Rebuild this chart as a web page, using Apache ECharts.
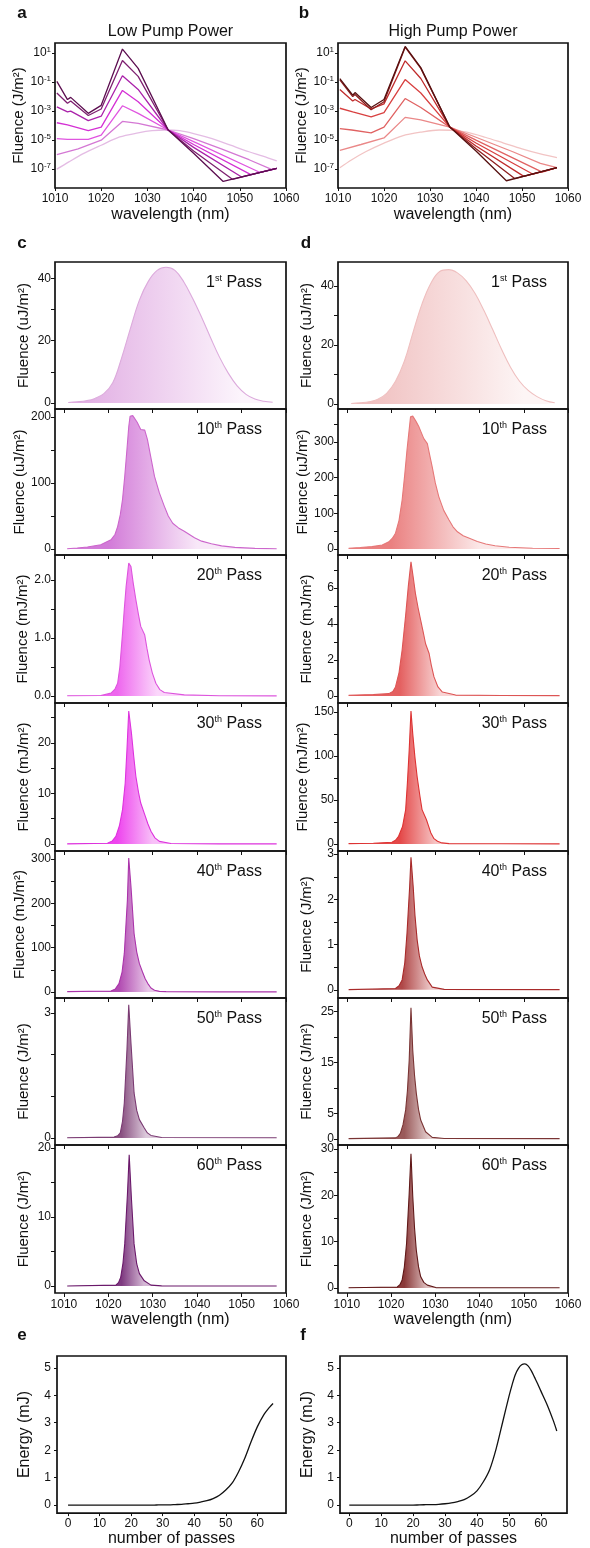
<!DOCTYPE html>
<html><head><meta charset="utf-8">
<script src="https://cdn.jsdelivr.net/npm/echarts@6/dist/echarts.min.js"></script>
<style>html,body{margin:0;padding:0;background:#fff}#c{width:590px;height:1548px}</style>
</head><body><div id="c"></div>
<script>
// ---------- DATA ----------
const passes = ['1','10','20','30','40','50','60'];
const suffix = ['st','th','th','th','th','th','th'];
const logTicks = [-7,-5,-3,-1,1];
const xTicks = [1010,1020,1030,1040,1050,1060];
const passTicks = [0,10,20,30,40,50,60];
const energyTicks = [0,1,2,3,4,5];

// panel a: log10 fluence (J/m2)
const a1  = [[1010.4,-7.0],[1013,-6.5],[1016,-5.95],[1020,-5.35],[1024,-4.78],[1028,-4.5],[1031,-4.35],[1034,-4.3],[1037,-4.35],[1040,-4.55],[1044,-4.9],[1048,-5.35],[1052,-5.8],[1055,-6.1],[1058,-6.43]];
const a10 = [[1010.4,-6.0],[1015,-5.6],[1020,-5.0],[1024.6,-3.71],[1028,-3.85],[1034.5,-4.3],[1040,-4.9],[1046,-5.6],[1052,-6.35],[1057,-7.03],[1058,-6.95]];
const a20 = [[1010.4,-4.9],[1012.7,-4.95],[1017.2,-4.95],[1020,-4.65],[1024.6,-2.63],[1028,-3.15],[1034.5,-4.3],[1040,-5.1],[1054.4,-7.23],[1058,-6.95]];
const a30 = [[1010.4,-3.8],[1012.7,-3.95],[1017.2,-4.35],[1020,-4.1],[1024.6,-1.57],[1028,-2.35],[1034.5,-4.3],[1040,-5.3],[1052.4,-7.38],[1058,-6.95]];
const a40 = [[1010.4,-2.7],[1012.7,-3.05],[1013.4,-3.0],[1017.2,-3.65],[1020,-3.35],[1024.6,-0.56],[1028,-1.5],[1034.5,-4.3],[1040,-5.5],[1050.4,-7.54],[1058,-6.95]];
const a50 = [[1010.4,-1.75],[1012.7,-2.45],[1013.4,-2.3],[1017.2,-3.3],[1020,-2.85],[1024.6,0.49],[1028,-0.6],[1034.5,-4.3],[1040,-5.75],[1048.4,-7.7],[1058,-6.95]];
const a60 = [[1010.4,-0.95],[1012.7,-2.2],[1013.4,-2.05],[1017.2,-3.15],[1020,-2.6],[1024.6,1.28],[1028,-0.05],[1034.5,-4.3],[1040,-5.9],[1046.4,-7.85],[1058,-6.95]];

// panel b: log10 fluence (J/m2)
const b1  = [[1010.4,-6.9],[1013,-6.35],[1016,-5.8],[1020,-5.2],[1024,-4.7],[1028,-4.45],[1032,-4.3],[1035,-4.32],[1038,-4.45],[1042,-4.8],[1046,-5.2],[1050,-5.6],[1054,-5.95],[1057.6,-6.2]];
const b10 = [[1010.4,-5.7],[1015,-5.3],[1020,-4.85],[1024.6,-3.43],[1028,-3.6],[1034.3,-4.1],[1040,-4.8],[1048,-5.8],[1054,-6.6],[1057.6,-6.9]];
const b20 = [[1010.4,-4.2],[1013,-4.3],[1017.2,-4.5],[1020,-4.1],[1024.6,-2.13],[1028,-2.75],[1034.3,-4.1],[1040,-5.0],[1054.4,-7.2],[1057.6,-6.9]];
const b30 = [[1010.4,-2.8],[1013.2,-3.05],[1017.2,-3.4],[1020,-3.1],[1024.6,-0.82],[1028,-1.75],[1034.3,-4.1],[1040,-5.2],[1052.4,-7.35],[1057.6,-6.9]];
const b40 = [[1010.4,-1.5],[1013.2,-2.3],[1013.7,-2.2],[1017.2,-2.85],[1020,-2.5],[1024.6,0.47],[1028,-0.75],[1034.3,-4.1],[1040,-5.4],[1050.4,-7.5],[1057.6,-6.9]];
const b50 = [[1010.4,-0.85],[1013.2,-2.0],[1013.7,-1.85],[1017.2,-2.9],[1020,-2.35],[1024.6,1.41],[1028,-0.05],[1034.3,-4.1],[1040,-5.6],[1048.4,-7.65],[1057.6,-6.9]];
const b60 = [[1010.4,-0.75],[1013.2,-1.9],[1013.7,-1.72],[1017.2,-2.75],[1020,-2.2],[1024.6,1.46],[1028,0.0],[1034.3,-4.1],[1040,-5.75],[1046.6,-7.8],[1057.6,-6.9]];

// panel c (low pump) linear spectra, units per subplot
const c1  = [[1011,0.2],[1013,0.4],[1015,0.75],[1017,1.5],[1019,3.0],[1021,6.5],[1023,14.5],[1025,24],[1027,33],[1029,39],[1031,42.5],[1033,43.5],[1035,42.5],[1037,38.8],[1039,33.5],[1041,27.5],[1043,21],[1045,14.8],[1047,9.6],[1049,5.5],[1051,2.8],[1053,1.3],[1055,0.6],[1057,0.25]];
const c10 = [[1010.75,0.5],[1013,1.5],[1015.3,3],[1018.3,6.6],[1020.6,14],[1021.5,22],[1022.1,34],[1022.7,52],[1023.2,75],[1023.7,110],[1024.2,151],[1024.6,185],[1024.9,201],[1025.5,202],[1026.5,192],[1027.3,181],[1028.2,180],[1028.8,166],[1029.6,138],[1030.4,110],[1031.5,85],[1032.6,65],[1033.5,50],[1034.5,39],[1035.8,32],[1037.1,27],[1039.4,17],[1041,12],[1043.2,8],[1045.5,4.8],[1048.5,2.5],[1053,1],[1057.9,0.5]];
const c20 = [[1010.75,0.005],[1018.3,0.01],[1020.6,0.05],[1021.5,0.12],[1022.1,0.22],[1022.6,0.5],[1023.2,1.08],[1023.6,1.5],[1024,1.88],[1024.6,2.29],[1025.1,2.23],[1025.6,1.95],[1026.2,1.66],[1026.8,1.4],[1027.3,1.2],[1028.2,1.05],[1028.7,0.82],[1029.2,0.62],[1029.9,0.4],[1030.7,0.22],[1031.6,0.11],[1032.6,0.06],[1037.1,0.02],[1045,0.005],[1057.9,0.003]];
const c30 = [[1010.75,0.02],[1019.8,0.13],[1020.9,0.6],[1021.7,1.5],[1022.5,3.6],[1023.2,6.8],[1023.8,12],[1024.2,18.7],[1024.6,26.3],[1025.2,22],[1025.7,17.5],[1026.2,13.4],[1026.8,10.2],[1027.3,8.1],[1028.2,5.8],[1028.9,4.0],[1029.6,2.5],[1030.5,1.2],[1031.5,0.5],[1034.1,0.07],[1045,0.02],[1057.9,0.01]];
const c40 = [[1010.75,0.8],[1020.6,2.3],[1021.6,7],[1022.4,19],[1023.1,45],[1023.6,87],[1024.3,208],[1024.6,302],[1025.1,238],[1025.8,132],[1026.4,90],[1027,64],[1027.7,45],[1028.3,30],[1028.9,19],[1029.6,9],[1030.4,4],[1031.5,1.5],[1033,0.8],[1045,0.3],[1057.9,0.2]];
const c50 = [[1010.75,0.003],[1021.3,0.02],[1022.1,0.05],[1022.7,0.12],[1023.2,0.4],[1023.6,0.84],[1024.2,2.12],[1024.6,3.2],[1025.1,2.28],[1025.8,1.08],[1026.4,0.66],[1027,0.44],[1028.1,0.24],[1028.8,0.12],[1029.6,0.06],[1032,0.01],[1057.9,0.003]];
const c60 = [[1010.75,0.01],[1021.7,0.14],[1022.3,0.5],[1022.8,1.3],[1023.3,3.3],[1023.7,6.1],[1024.3,13.2],[1024.7,19],[1025.2,12.7],[1025.8,6.1],[1026.4,3.2],[1027,1.8],[1028.1,0.76],[1029.6,0.14],[1032,0.03],[1057.9,0.01]];

// panel d (high pump) linear spectra
const d1  = [[1011,0.15],[1013,0.4],[1015,0.75],[1017,1.6],[1019,3.6],[1021,7.7],[1023,14.5],[1025,24.5],[1027,34],[1029,41],[1031,45],[1033,45.6],[1035,44.5],[1037,41.8],[1039,37.5],[1041,31.7],[1043,25.2],[1045,18.5],[1047,12.5],[1049,7.8],[1051,4.6],[1053,2.5],[1055,1.1],[1057,0.4]];
const d10 = [[1010.4,2],[1013,4],[1015.7,6.5],[1018,11],[1019.5,20],[1020.3,30],[1021,44],[1021.8,80],[1022.5,137],[1023.1,210],[1023.6,277],[1024.4,370],[1024.9,372],[1025.6,358],[1026.3,342],[1027.4,309],[1028.2,295],[1028.7,265],[1029.3,230],[1030,185],[1030.8,146],[1031.9,108],[1033.1,81],[1034,62],[1035,48],[1036.3,37],[1037.7,30],[1039.5,21],[1041.4,14],[1043.5,9],[1046.7,4.7],[1052,2],[1058.1,1]];
const d20 = [[1010.4,0.04],[1016,0.08],[1019.5,0.13],[1020.4,0.25],[1021,0.5],[1021.8,1.3],[1022.5,2.55],[1023.3,4.5],[1023.9,6.1],[1024.5,7.45],[1025,6.6],[1025.5,5.7],[1026.1,4.9],[1026.7,4.2],[1027.3,3.5],[1027.8,2.9],[1028.6,2.36],[1029.1,1.7],[1029.7,1.06],[1030.6,0.5],[1031.6,0.22],[1034.6,0.05],[1045,0.03],[1058.1,0.02]];
const d30 = [[1010.4,0.4],[1016,0.8],[1020.2,1.9],[1021,4.2],[1021.7,8.7],[1022.6,20],[1023.3,39],[1023.7,70],[1024.1,107],[1024.5,151],[1024.9,125],[1025.4,98],[1025.9,76],[1026.5,55],[1027,39],[1028,27.5],[1028.5,20],[1029,12.4],[1029.7,6],[1030.5,3],[1031.5,1.2],[1033.1,0.4],[1045,0.2],[1058.1,0.1]];
const d40 = [[1010.4,0.005],[1021,0.03],[1021.8,0.09],[1022.5,0.22],[1023.1,0.6],[1023.6,1.25],[1024.2,2.28],[1024.5,2.93],[1025,2.28],[1025.4,1.65],[1025.9,1.1],[1026.4,0.75],[1027,0.51],[1027.6,0.35],[1028.2,0.22],[1029.3,0.06],[1032,0.01],[1058.1,0.005]];
const d50 = [[1010.4,0.05],[1021,0.2],[1021.6,0.5],[1022.1,1.1],[1022.7,2.8],[1023.3,5.7],[1023.7,9.5],[1024.1,15.5],[1024.5,25.8],[1024.9,17.4],[1025.3,12.5],[1025.7,9],[1026.2,5.8],[1026.7,3.7],[1027.8,1.4],[1029.3,0.3],[1032,0.08],[1058.1,0.05]];
const d60 = [[1010.4,0.05],[1021.4,0.2],[1022,0.7],[1022.5,1.7],[1023,4.5],[1023.5,9.6],[1024.1,20.5],[1024.5,29],[1024.9,19.8],[1025.3,13],[1025.7,8.2],[1026.2,4.6],[1026.7,2.4],[1027.4,1.2],[1028.2,0.6],[1030.1,0.07],[1058.1,0.03]];

// y-axis units and tick values per subplot
const cUnits = ['uJ','uJ','mJ','mJ','mJ','J','J'];
const dUnits = ['uJ','uJ','mJ','mJ','J','J','J'];
const cLabelVals = [[0,20,40],[0,100,200],[0,1,2],[0,10,20],[0,100,200,300],[0,3],[0,10,20]];
const cTickVals  = [[0,10,20,30,40],[0,50,100,150,200],[0,0.5,1,1.5,2],[0,5,10,15,20,25],[0,50,100,150,200,250,300],[0,1,2,3],[0,5,10,15,20]];
const dLabelVals = [[0,20,40],[0,100,200,300],[0,2,4,6],[0,50,100,150],[0,1,2,3],[0,5,15,25],[0,10,20,30]];
const dTickVals  = [[0,10,20,30,40],[0,50,100,150,200,250,300,350],[0,1,2,3,4,5,6,7],[0,25,50,75,100,125,150],[0,0.5,1,1.5,2,2.5,3],[0,5,10,15,20,25],[0,5,10,15,20,25,30]];

// panels e, f: energy (mJ) vs number of passes
const eEnergy = [[0,0],[2,0],[4,0],[6,0],[8,0],[10,0],[12,0],[14,0],[16,0],[18,0],[20,0],[22,0],[24,0],[26,0],[28,0.005],[30,0.01],[32,0.01],[34,0.02],[36,0.03],[38,0.05],[40,0.07],[42,0.11],[44,0.16],[46,0.24],[48,0.36],[50,0.55],[52,0.8],[54,1.2],[56,1.7],[58,2.3],[60,2.85],[62,3.28],[64,3.58],[65,3.7]];
const fEnergy = [[0,0],[2,0],[4,0],[6,0],[8,0],[10,0],[12,0],[14,0],[16,0],[18,0],[20,0],[22,0.01],[24,0.015],[26,0.02],[28,0.03],[30,0.05],[32,0.08],[34,0.13],[36,0.2],[38,0.33],[40,0.52],[42,0.85],[44,1.3],[46,2.05],[48,3.0],[50,3.95],[51,4.38],[52,4.75],[53,4.98],[54,5.11],[55,5.14],[56,5.07],[57,4.9],[58,4.66],[59,4.42],[60,4.16],[62,3.65],[64,3.05],[65,2.7]];

// ---------- STYLE ----------
const FONT = '"Liberation Sans", Arial, Helvetica, sans-serif';
const INK = '#111';
const cLine = ['#dcaadc','#cc66cc','#dd55dd','#dd33dd','#aa33aa','#7a3a72','#6a186a'];
const cFillA = ['#e2b0e4','#d27ad8','#ee66ee','#ee44ee','#b24cb2','#8a5282','#7e3a80'];
const cFillB = ['#fcf5fc','#f8e8f8','#fbd6fb','#f8c0f8','#e8c8e8','#dccadb','#d4b8d4'];
const dLine = ['#efbfbf','#e67878','#dd5555','#dd3333','#a82a2a','#7a3434','#601818'];
const dFillA = ['#f0c0c0','#ea8080','#e46060','#e44848','#b04848','#9a5a5a','#8a3a3a'];
const dFillB = ['#fdf5f5','#fbe8e8','#f8d4d4','#f6c4c4','#ecc8c8','#e2cccc','#dcbcbc'];
const gradRange = [[1015,1050],[1020,1040],[1022,1031],[1022,1030],[1022.5,1029],[1023,1028.5],[1023,1028]];
const aLine = ['#e4bce4','#d478d4','#e055e0','#d430d4','#aa22aa','#7e2070','#5c0e50'];
const bLine = ['#f2c4c4','#ea8888','#e06262','#d84040','#c02c2c','#8e1e1e','#561010'];

const lowSets = [a1,a10,a20,a30,a40,a50,a60];
const highSets = [b1,b10,b20,b30,b40,b50,b60];
const cSets = [c1,c10,c20,c30,c40,c50,c60];
const dSets = [d1,d10,d20,d30,d40,d50,d60];

const grids=[], xAxis=[], yAxis=[], series=[], graphic=[];
const tickStyle = {lineStyle:{color:INK,width:1}};
const noLine = {show:false,onZero:false};
const plain = v => String(v);
function lbl(extra){ return Object.assign({fontSize:12,color:INK,fontFamily:FONT,formatter:plain},extra||{}); }
function addGrid(left,top,width,height){
  grids.push({left,top,width,height,show:true,borderColor:INK,borderWidth:1.7,backgroundColor:'rgba(0,0,0,0)',containLabel:false});
  return grids.length-1;
}
function text(x,y,str,size,opts){
  graphic.push({type:'text',x,y,z:100,style:Object.assign({text:str,fontSize:size,fontFamily:FONT,fill:INK,align:'center',verticalAlign:'middle'},opts||{})});
}
const supRich = {n:{fontSize:16,fontFamily:FONT,color:INK,lineHeight:18},s:{fontSize:9,fontFamily:FONT,color:INK,lineHeight:10,verticalAlign:'top'}};

// panels a, b (log)
function logPanel(left,width,sets,colors,title){
  const g = addGrid(left,43,width,145);
  xAxis.push({gridIndex:g,type:'value',min:1010,max:1060,interval:10,
    axisLine:noLine,axisTick:Object.assign({show:true,length:3,inside:false},tickStyle),
    axisLabel:lbl({margin:5}),splitLine:{show:false},
    name:'wavelength (nm)',nameLocation:'middle',nameGap:19,nameTextStyle:{fontSize:16,color:INK,fontFamily:FONT}});
  yAxis.push({gridIndex:g,type:'value',min:-8.3,max:1.7,
    axisLine:noLine,axisTick:Object.assign({show:true,length:3,customValues:logTicks},tickStyle),
    axisLabel:{customValues:logTicks,margin:4,formatter:v=>'{b|10}{s|'+v+'}',
      rich:{b:{fontSize:12,fontFamily:FONT,color:INK,lineHeight:14},s:{fontSize:8,fontFamily:FONT,color:INK,lineHeight:8,verticalAlign:'top'}}},
    splitLine:{show:false},
    name:'Fluence (J/m²)',nameLocation:'middle',nameGap:24,nameTextStyle:{fontSize:15,color:INK,fontFamily:FONT}});
  sets.forEach((d,i)=>{
    series.push({type:'line',xAxisIndex:g,yAxisIndex:g,data:d,showSymbol:false,smooth:i===0?0.3:false,
      lineStyle:{color:colors[i],width:1.3},z:2+i,silent:true});
  });
  text(left+width/2,32,title,16);
}
logPanel(55,231,lowSets,aLine,'Low Pump Power');
logPanel(338,230,highSets,bLine,'High Pump Power');

// panels c, d (stacked linear)
const subTops = [262,409,555,703,851,998,1145];
const subH = [147,146,148,148,147,147,148];
const cRanges = [[-1.9,45.2],[-9,212],[-0.12,2.43],[-1.4,27.9],[-13.5,318],[-0.17,3.36],[-1,20.4]];
const dRanges = [[-1.7,48.2],[-17,392],[-0.39,7.83],[-8,160],[-0.18,3.07],[-1.2,27.7],[-1.1,30.9]];
function stackPanel(left,width,sets,units,ranges,labelVals,tickVals,lineC,fillA,fillB,labelRight,labelFmt){
  sets.forEach((d,i)=>{
    const g = addGrid(left,subTops[i],width,subH[i]);
    const last = i===sets.length-1;
    xAxis.push({gridIndex:g,type:'value',min:1008,max:1060,
      axisLine:noLine,axisTick:Object.assign({show:true,length:4,customValues:xTicks},tickStyle),
      axisLabel:lbl({show:last,customValues:xTicks,margin:6}),splitLine:{show:false},
      name:last?'wavelength (nm)':'',nameLocation:'middle',nameGap:19,nameTextStyle:{fontSize:16,color:INK,fontFamily:FONT}});
    yAxis.push({gridIndex:g,type:'value',min:ranges[i][0],max:ranges[i][1],
      axisLine:noLine,axisTick:Object.assign({show:true,length:4,customValues:tickVals[i]},tickStyle),
      axisLabel:lbl({customValues:labelVals[i],margin:4,formatter:labelFmt(i)}),splitLine:{show:false},
      name:'Fluence ('+units[i]+'/m²)',nameLocation:'middle',nameGap:24,nameTextStyle:{fontSize:15,color:INK,fontFamily:FONT}});
    const x0 = d[0][0], x1 = d[d.length-1][0];
    const s0 = Math.max(0,(gradRange[i][0]-x0)/(x1-x0)), s1 = Math.min(1,(gradRange[i][1]-x0)/(x1-x0));
    series.push({type:'line',xAxisIndex:g,yAxisIndex:g,data:d,showSymbol:false,smooth:i===0?0.4:false,
      lineStyle:{color:lineC[i],width:1.1},silent:true,
      areaStyle:{opacity:1,color:new echarts.graphic.LinearGradient(0,0,1,0,[
        {offset:0,color:fillA[i]},{offset:s0,color:fillA[i]},{offset:s1,color:fillB[i]},{offset:1,color:fillB[i]}])}});
    graphic.push({type:'text',x:labelRight,y:subTops[i]+21,z:100,style:{
      text:'{n|'+passes[i]+'}{s|'+suffix[i]+'}{n| Pass}',rich:supRich,align:'right',verticalAlign:'middle',fill:INK}});
  });
}
stackPanel(55,231,cSets,cUnits,cRanges,cLabelVals,cTickVals,cLine,cFillA,cFillB,262,
  i=> i===2 ? (v=>v.toFixed(1)) : plain);
stackPanel(338,230,dSets,dUnits,dRanges,dLabelVals,dTickVals,dLine,dFillA,dFillB,547,
  i=> plain);

// panels e, f
function energyPanel(left,width,xmin,xmax,data){
  const g = addGrid(left,1356,width,158);
  xAxis.push({gridIndex:g,type:'value',min:xmin,max:xmax,
    axisLine:noLine,axisTick:Object.assign({show:true,length:3,customValues:passTicks},tickStyle),
    axisLabel:lbl({customValues:passTicks,margin:5}),splitLine:{show:false},
    name:'number of passes',nameLocation:'middle',nameGap:17,nameTextStyle:{fontSize:16,color:INK,fontFamily:FONT}});
  yAxis.push({gridIndex:g,type:'value',min:-0.29,max:5.43,
    axisLine:noLine,axisTick:Object.assign({show:true,length:3,customValues:energyTicks},tickStyle),
    axisLabel:lbl({customValues:energyTicks,margin:6}),splitLine:{show:false},
    name:'Energy (mJ)',nameLocation:'middle',nameGap:24,nameTextStyle:{fontSize:16,color:INK,fontFamily:FONT}});
  series.push({type:'line',xAxisIndex:g,yAxisIndex:g,data,showSymbol:false,smooth:0.3,
    lineStyle:{color:INK,width:1.3},silent:true});
}
energyPanel(57,229,-3.5,69.1,eEnergy);
energyPanel(340,227,-2.9,68.2,fEnergy);

// panel letters
[['a',22,13],['b',304,13],['c',22,243],['d',306,243],['e',22,1335],['f',303,1335]].forEach(p=>
  text(p[1],p[2],p[0],17,{fontWeight:'bold'}));

const chart = echarts.init(document.getElementById('c'),null,{renderer:'canvas'});
chart.setOption({animation:false,backgroundColor:'#fff',grid:grids,xAxis,yAxis,series,graphic});
</script></body></html>
